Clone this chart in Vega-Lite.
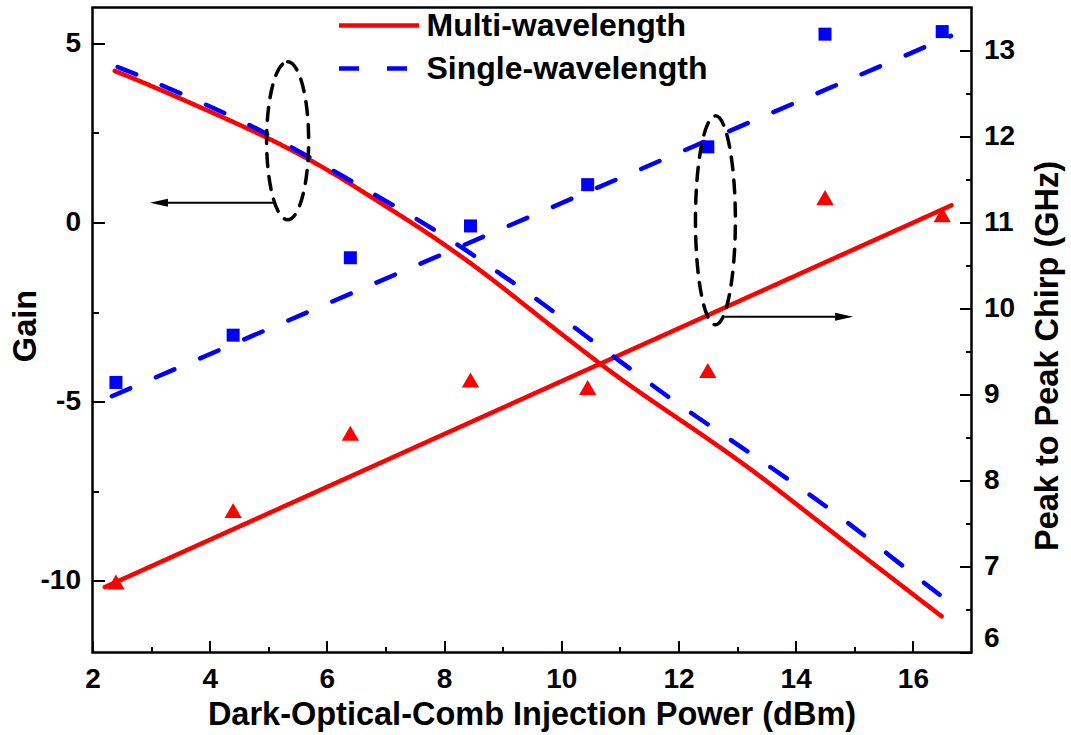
{
  "$schema": "https://vega.github.io/schema/vega-lite/v6.json",
  "width": 879,
  "height": 645,
  "autosize": {"type": "none"},
  "padding": {"left": 92.5, "top": 7.5, "right": 99.5, "bottom": 82.5},
  "background": "white",
  "config": {
    "view": {"stroke": "#000000", "strokeWidth": 2.5},
    "font": "Liberation Sans",
    "axis": {
      "grid": false,
      "domain": false,
      "tickColor": "#000000",
      "tickWidth": 2,
      "labelFont": "Liberation Sans",
      "labelFontWeight": "bold",
      "labelFontSize": 28,
      "labelColor": "#000000",
      "titleFont": "Liberation Sans",
      "titleFontWeight": "bold",
      "titleFontSize": 32.5,
      "titleColor": "#000000",
      "labelOverlap": false,
      "labelBound": false
    },
    "legend": {
      "orient": "none", "legendX": 264, "legendY": -4.5, "title": null,
      "symbolType": "M-2,0L2,0", "symbolSize": 1600, "symbolStrokeWidth": 4.5,
      "labelFontSize": 32, "labelFont": "Liberation Sans", "labelFontWeight": "bold", "labelColor": "#000000",
      "labelLimit": 0, "labelOffset": 25, "rowPadding": 4, "padding": 0
    }
  },
  "datasets": {
    "gainCurves": [
      {"x": 2.38, "gain": 4.23, "series": "Multi-wavelength"},
      {"x": 3.0, "gain": 3.82, "series": "Multi-wavelength"},
      {"x": 4.0, "gain": 3.1, "series": "Multi-wavelength"},
      {"x": 5.0, "gain": 2.37, "series": "Multi-wavelength"},
      {"x": 6.0, "gain": 1.5, "series": "Multi-wavelength"},
      {"x": 6.9, "gain": 0.56, "series": "Multi-wavelength"},
      {"x": 7.64, "gain": -0.2, "series": "Multi-wavelength"},
      {"x": 8.61, "gain": -1.3, "series": "Multi-wavelength"},
      {"x": 9.6, "gain": -2.6, "series": "Multi-wavelength"},
      {"x": 10.66, "gain": -3.95, "series": "Multi-wavelength"},
      {"x": 11.3, "gain": -4.7, "series": "Multi-wavelength"},
      {"x": 12.02, "gain": -5.5, "series": "Multi-wavelength"},
      {"x": 12.65, "gain": -6.2, "series": "Multi-wavelength"},
      {"x": 13.4, "gain": -7.08, "series": "Multi-wavelength"},
      {"x": 14.12, "gain": -8.0, "series": "Multi-wavelength"},
      {"x": 14.86, "gain": -8.94, "series": "Multi-wavelength"},
      {"x": 15.6, "gain": -9.87, "series": "Multi-wavelength"},
      {"x": 16.49, "gain": -10.99, "series": "Multi-wavelength"},
      {"x": 2.43, "gain": 4.34, "series": "Single-wavelength"},
      {"x": 2.98, "gain": 3.98, "series": "Single-wavelength"},
      {"x": 3.78, "gain": 3.4, "series": "Single-wavelength"},
      {"x": 4.52, "gain": 2.86, "series": "Single-wavelength"},
      {"x": 5.2, "gain": 2.28, "series": "Single-wavelength"},
      {"x": 5.99, "gain": 1.56, "series": "Single-wavelength"},
      {"x": 6.73, "gain": 0.86, "series": "Single-wavelength"},
      {"x": 7.47, "gain": 0.16, "series": "Single-wavelength"},
      {"x": 8.21, "gain": -0.58, "series": "Single-wavelength"},
      {"x": 8.95, "gain": -1.42, "series": "Single-wavelength"},
      {"x": 9.69, "gain": -2.26, "series": "Single-wavelength"},
      {"x": 10.43, "gain": -3.19, "series": "Single-wavelength"},
      {"x": 11.17, "gain": -4.07, "series": "Single-wavelength"},
      {"x": 11.85, "gain": -4.91, "series": "Single-wavelength"},
      {"x": 12.65, "gain": -5.8, "series": "Single-wavelength"},
      {"x": 13.38, "gain": -6.61, "series": "Single-wavelength"},
      {"x": 14.12, "gain": -7.45, "series": "Single-wavelength"},
      {"x": 14.86, "gain": -8.33, "series": "Single-wavelength"},
      {"x": 15.6, "gain": -9.29, "series": "Single-wavelength"},
      {"x": 16.34, "gain": -10.25, "series": "Single-wavelength"},
      {"x": 16.51, "gain": -10.45, "series": "Single-wavelength"}
    ],
    "chirpLines": [
      {"x": 2.21, "chirp": 6.76, "series": "Multi-wavelength"},
      {"x": 16.66, "chirp": 11.2, "series": "Multi-wavelength"},
      {"x": 2.33, "chirp": 8.98, "series": "Single-wavelength"},
      {"x": 16.65, "chirp": 13.17, "series": "Single-wavelength"}
    ],
    "chirpPoints": [
      {"x": 2.4, "chirp": 9.14, "series": "Single-wavelength"},
      {"x": 4.4, "chirp": 9.69, "series": "Single-wavelength"},
      {"x": 6.4, "chirp": 10.59, "series": "Single-wavelength"},
      {"x": 8.45, "chirp": 10.96, "series": "Single-wavelength"},
      {"x": 10.45, "chirp": 11.44, "series": "Single-wavelength"},
      {"x": 12.5, "chirp": 11.88, "series": "Single-wavelength"},
      {"x": 14.5, "chirp": 13.19, "series": "Single-wavelength"},
      {"x": 16.5, "chirp": 13.22, "series": "Single-wavelength"},
      {"x": 2.4, "chirp": 6.82, "series": "Multi-wavelength"},
      {"x": 4.4, "chirp": 7.65, "series": "Multi-wavelength"},
      {"x": 6.4, "chirp": 8.55, "series": "Multi-wavelength"},
      {"x": 8.45, "chirp": 9.17, "series": "Multi-wavelength"},
      {"x": 10.45, "chirp": 9.08, "series": "Multi-wavelength"},
      {"x": 12.5, "chirp": 9.28, "series": "Multi-wavelength"},
      {"x": 14.5, "chirp": 11.29, "series": "Multi-wavelength"},
      {"x": 16.5, "chirp": 11.09, "series": "Multi-wavelength"}
    ],
    "arrows": [
      {"x": 5.11, "x2": 3.1, "gain": 0.55, "dir": "left"},
      {"x": 12.79, "x2": 14.86, "gain": -2.63, "dir": "right"}
    ],
    "arrowheads": [
      {"x": 2.98, "gain": 0.55, "dir": "left"},
      {"x": 14.98, "gain": -2.63, "dir": "right"}
    ],
    "ellipses": [
      {"x": 5.33, "gain": 2.28, "name": "gain"},
      {"x": 12.63, "gain": 0.06, "name": "chirp"}
    ]
  },
  "layer": [
    {
      "encoding": {
        "x": {
          "field": "x", "type": "quantitative",
          "scale": {"domain": [2, 17], "nice": false, "zero": false},
          "axis": {
            "title": "Dark-Optical-Comb Injection Power (dBm)",
            "orient": "bottom",
            "values": [2, 3, 4, 5, 6, 7, 8, 9, 10, 11, 12, 13, 14, 15, 16],
            "labelExpr": "datum.value % 2 === 0 ? datum.label : ''",
            "tickSize": {"condition": {"test": "datum.value % 2 === 0", "value": -12}, "value": -6},
            "labelPadding": 25,
            "labelFlush": false,
            "titleX": 439,
            "titleY": 62,
            "titleAlign": "center",
            "titleBaseline": "middle"
          }
        },
        "y": {
          "field": "chirp", "type": "quantitative",
          "scale": {"domain": [6, 13.5], "nice": false, "zero": false},
          "axis": {
            "title": "Peak to Peak Chirp (GHz)",
            "orient": "right",
            "values": [6, 6.5, 7, 7.5, 8, 8.5, 9, 9.5, 10, 10.5, 11, 11.5, 12, 12.5, 13],
            "labelExpr": "datum.value % 1 === 0 ? '' + datum.value : ''",
            "tickSize": {"condition": {"test": "datum.value % 1 === 0", "value": -12}, "value": -6},
            "labelPadding": 24,
            "labelFlush": true,
            "titleAngle": 270,
            "titleX": 76,
            "titleY": 348,
            "titleAlign": "center",
            "titleBaseline": "middle"
          }
        }
      },
      "layer": [
        {
          "data": {"name": "chirpLines"},
          "mark": {"type": "line", "strokeWidth": 4.5, "strokeCap": "round"},
          "encoding": {
            "color": {"field": "series", "type": "nominal", "scale": {"domain": ["Multi-wavelength", "Single-wavelength"], "range": ["#ff0000", "#0000ff"]}, "legend": {"rowPadding": 4}},
            "strokeDash": {"field": "series", "type": "nominal", "scale": {"domain": ["Multi-wavelength", "Single-wavelength"], "range": [[1, 0], [20, 28]]}, "legend": {"rowPadding": 4}}
          }
        },
        {
          "data": {"name": "chirpPoints"},
          "transform": [{"filter": "datum.series === 'Single-wavelength'"}],
          "mark": {"type": "point", "shape": "square", "filled": true, "size": 169, "color": "#0000ff", "opacity": 1}
        },
        {
          "data": {"name": "chirpPoints"},
          "transform": [{"filter": "datum.series === 'Multi-wavelength'"}],
          "mark": {"type": "point", "shape": "triangle-up", "filled": true, "size": 300, "color": "#ff0000", "opacity": 1}
        }
      ]
    },
    {
      "encoding": {
        "x": {
          "field": "x", "type": "quantitative",
          "scale": {"domain": [2, 17], "nice": false, "zero": false},
          "axis": {
            "title": "Dark-Optical-Comb Injection Power (dBm)",
            "orient": "bottom",
            "values": [2, 3, 4, 5, 6, 7, 8, 9, 10, 11, 12, 13, 14, 15, 16],
            "labelExpr": "datum.value % 2 === 0 ? datum.label : ''",
            "tickSize": {"condition": {"test": "datum.value % 2 === 0", "value": -12}, "value": -6},
            "labelPadding": 25,
            "labelFlush": false,
            "titleX": 439,
            "titleY": 62,
            "titleAlign": "center",
            "titleBaseline": "middle"
          }
        },
        "y": {
          "field": "gain", "type": "quantitative",
          "scale": {"domain": [-12, 6], "nice": false, "zero": false},
          "axis": {
            "title": "Gain",
            "orient": "left",
            "values": [-10, -7.5, -5, -2.5, 0, 2.5, 5],
            "labelExpr": "datum.value % 5 === 0 ? (datum.value < 0 ? '-' + abs(datum.value) : '' + datum.value) : ''",
            "tickSize": {"condition": {"test": "datum.value % 5 === 0", "value": -12}, "value": -6},
            "labelPadding": 24,
            "labelFlush": false,
            "titleAngle": 270,
            "titleX": -67,
            "titleY": 318,
            "titleAlign": "center",
            "titleBaseline": "middle"
          }
        }
      },
      "layer": [
        {
          "data": {"name": "gainCurves"},
          "mark": {"type": "line", "strokeWidth": 4.5, "strokeCap": "round", "interpolate": "basis"},
          "encoding": {
            "color": {"field": "series", "type": "nominal", "scale": {"domain": ["Multi-wavelength", "Single-wavelength"], "range": ["#ff0000", "#0000ff"]}, "legend": {"rowPadding": 4}},
            "strokeDash": {"field": "series", "type": "nominal", "scale": {"domain": ["Multi-wavelength", "Single-wavelength"], "range": [[1, 0], [20, 28]]}, "legend": {"rowPadding": 4}}
          }
        },
        {
          "data": {"name": "arrows"},
          "mark": {"type": "rule", "color": "#000000", "strokeWidth": 2},
          "encoding": {"x2": {"field": "x2"}}
        },
        {
          "data": {"name": "arrowheads"},
          "transform": [{"filter": "datum.dir === 'left'"}],
          "mark": {"type": "point", "shape": "M0,0 L2,-0.45 L2,0.45 Z", "size": 324, "filled": true, "color": "#000000", "opacity": 1}
        },
        {
          "data": {"name": "arrowheads"},
          "transform": [{"filter": "datum.dir === 'right'"}],
          "mark": {"type": "point", "shape": "M0,0 L-2,-0.45 L-2,0.45 Z", "size": 324, "filled": true, "color": "#000000", "opacity": 1}
        },
        {
          "data": {"name": "ellipses"},
          "transform": [{"filter": "datum.name === 'gain'"}],
          "mark": {"type": "point", "shape": "M0,-1 A0.266,1 0 1,1 0,1 A0.266,1 0 1,1 0,-1 Z", "size": 24964, "filled": false, "stroke": "#000000", "strokeWidth": 3.5, "strokeDash": [13, 10], "strokeCap": "round", "opacity": 1}
        },
        {
          "data": {"name": "ellipses"},
          "transform": [{"filter": "datum.name === 'chirp'"}],
          "mark": {"type": "point", "shape": "M0,-1 A0.191,1 0 1,1 0,1 A0.191,1 0 1,1 0,-1 Z", "size": 43681, "filled": false, "stroke": "#000000", "strokeWidth": 3.5, "strokeDash": [13, 10], "strokeCap": "round", "opacity": 1}
        }
      ]
    }
  ],
  "resolve": {"scale": {"y": "independent"}}
}
